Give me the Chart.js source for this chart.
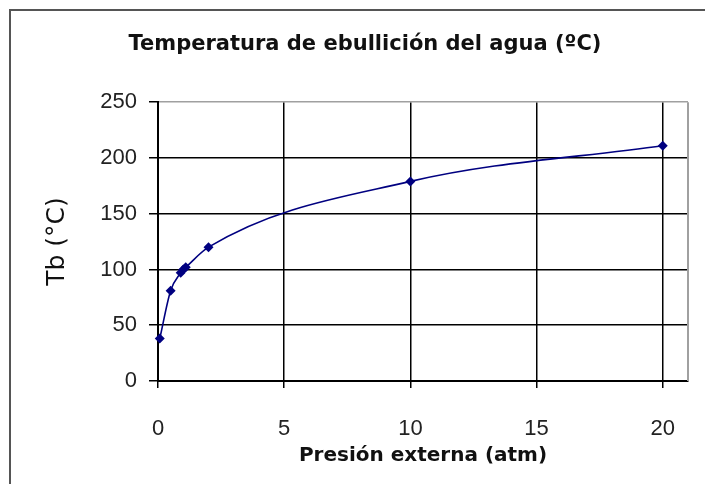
<!DOCTYPE html>
<html>
<head>
<meta charset="utf-8">
<script src="https://cdn.jsdelivr.net/npm/chart.js@4.4.1/dist/chart.umd.min.js"></script>
<style>
  html, body { margin: 0; background: #fff; overflow: hidden; }
  #wrap { position: relative; width: 705px; height: 484px; overflow: hidden; }
  #frame { position: absolute; left: 9px; top: 9px; width: 720px; height: 500px;
           border-left: 2px solid #555; border-top: 2px solid #555; }
  canvas { position: absolute; left: 0; top: 0; }
</style>
</head>
<body>
<div id="wrap">
  <div id="frame"></div>
  <canvas id="chart" width="705" height="484"></canvas>
</div>
<script>
// presion externa (atm) vs temperatura de ebullicion (C)
const pressures = [0.07, 0.5, 0.9, 1, 1.1, 2, 10, 20];
const temps = [38, 81, 97, 100, 102, 120, 179, 211];
const xTicks = [0, 5, 10, 15, 20];
const yTicks = [0, 50, 100, 150, 200, 250];

const points = pressures.map((p, i) => ({ x: p, y: temps[i] }));

// gray right edge of the plot area
const plotBorder = {
  id: 'plotBorder',
  beforeDatasetsDraw(chart) {
    const { ctx, chartArea } = chart;
    ctx.save();
    ctx.strokeStyle = '#a0a0a0';
    ctx.lineWidth = 2;
    ctx.beginPath();
    ctx.moveTo(chartArea.right, chartArea.top);
    ctx.lineTo(chartArea.right, chartArea.bottom);
    ctx.stroke();
    ctx.restore();
  }
};

const ctx = document.getElementById('chart').getContext('2d');
new Chart(ctx, {
  type: 'line',
  data: {
    datasets: [{
      data: points,
      borderColor: '#000080',
      backgroundColor: '#000080',
      borderWidth: 1.6,
      pointStyle: 'rectRot',
      pointRadius: 5,
      pointBorderWidth: 0,
      cubicInterpolationMode: 'monotone',
      clip: false
    }]
  },
  options: {
    responsive: false,
    animation: false,
    layout: { padding: { left: 42, right: 17, top: 0, bottom: 16 } },
    plugins: {
      legend: { display: false },
      tooltip: { enabled: false },
      title: {
        display: true,
        text: 'Temperatura de ebullición del agua (ºC)',
        color: '#111',
        font: { family: 'DejaVu Sans', size: 21, weight: 'bold' },
        padding: { top: 32, bottom: 45 }
      }
    },
    scales: {
      x: {
        type: 'linear',
        min: 0,
        max: 21,
        afterBuildTicks: scale => { scale.ticks = xTicks.map(v => ({ value: v })); },
        afterFit: scale => { scale.height = 87; },
        grid: { color: '#000', lineWidth: 1.5, tickLength: 7, tickColor: '#000' },
        border: { color: '#000', width: 2 },
        ticks: { color: '#222', padding: 28, font: { family: 'Liberation Sans', size: 22 } },
        title: {
          display: true,
          text: 'Presión externa (atm)',
          color: '#111',
          padding: 0,
          font: { family: 'DejaVu Sans', size: 20, weight: 'bold' }
        }
      },
      y: {
        min: 0,
        max: 250,
        afterBuildTicks: scale => { scale.ticks = yTicks.map(v => ({ value: v })); },
        afterFit: scale => { scale.width = 116; },
        grid: {
          color: c => c.tick.value === 250 ? '#a0a0a0' : '#000',
          lineWidth: 1.5,
          tickLength: 9,
          tickColor: '#000'
        },
        border: { color: '#000', width: 2 },
        ticks: { color: '#222', padding: 12, font: { family: 'Liberation Sans', size: 22 } },
        title: {
          display: true,
          text: 'Tb (°C)',
          color: '#111',
          padding: 0,
          font: { family: 'DejaVu Sans', size: 25 }
        }
      }
    }
  },
  plugins: [plotBorder]
});
</script>
</body>
</html>
